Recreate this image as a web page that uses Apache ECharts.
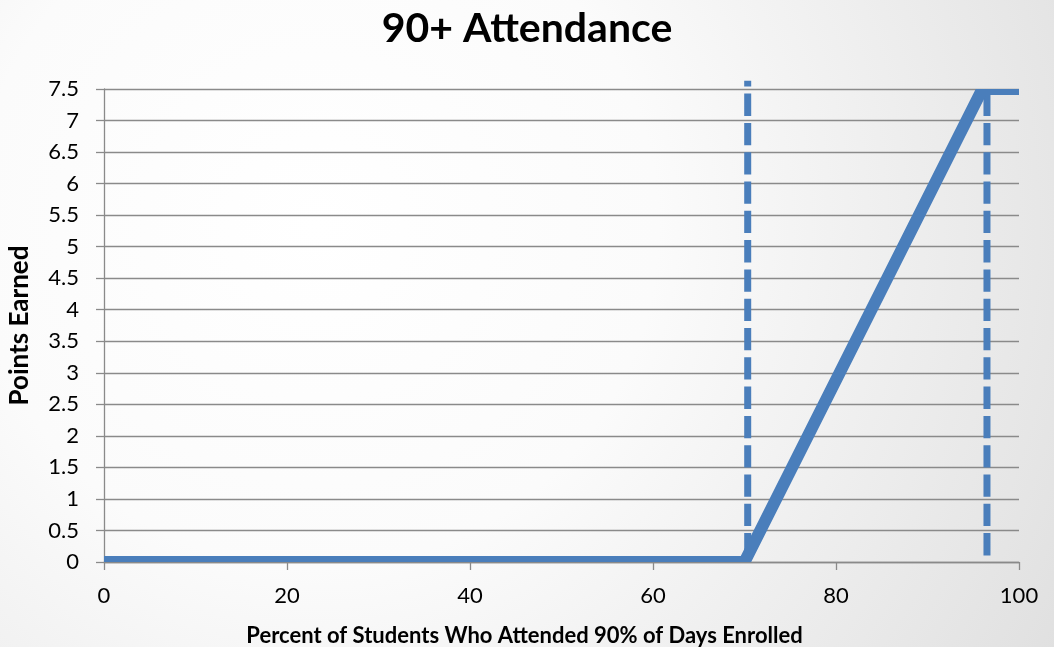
<!DOCTYPE html>
<html>
<head>
<meta charset="utf-8">
<script src="https://cdn.jsdelivr.net/npm/echarts@6/dist/echarts.min.js"></script>
<style>
  html, body { margin: 0; padding: 0; }
  #chart { width: 1054px; height: 647px; }
</style>
</head>
<body>
<div id="chart"></div>
<script>
// Points earned as a function of the share of students attending 90%+ of days
const scoreX = [0, 70, 96, 100];
const scoreY = [0, 0, 7.5, 7.5];

// Dashed threshold markers: x position, bottom and top value
const guideX = [70.35, 96.5];
const guideBottom = [0, 0];
const guideTop = [7.63, 7.5];

// Axis ranges and tick steps
const xRange = [0, 100];
const xStep = 20;
const yRange = [0, 7.5];
const yStep = 0.5;

const titleText = '90+ Attendance';
const xTitle = 'Percent of Students Who Attended 90% of Days Enrolled';
const yTitle = 'Points Earned';

const lineBlue = '#4a7ebb';
const gridGray = '#8a8a8a';

const chart = echarts.init(document.getElementById('chart'), null, { renderer: 'canvas' });

const guideSeries = guideX.map((x, i) => ({
  type: 'line',
  data: [[x, guideBottom[i]], [x, guideTop[i]]],
  symbol: 'none',
  clip: false,
  silent: true,
  animation: false,
  lineStyle: { color: lineBlue, width: 7, type: [22.3, 7], dashOffset: 22.7, cap: 'butt' },
  z: 2
}));

chart.setOption({
  animation: false,
  backgroundColor: {
    type: 'radial', x: 0.3, y: 0.35, r: 1.32,
    colorStops: [
      { offset: 0, color: '#ffffff' },
      { offset: 0.4, color: '#fbfbfb' },
      { offset: 1, color: '#e0e0e0' }
    ]
  },
  title: {
    text: titleText,
    left: 'center',
    top: 3,
    textStyle: { fontFamily: 'Lato', fontWeight: 'bold', fontSize: 41, color: '#000' }
  },
  grid: { left: 104, right: 35, top: 89, bottom: 85, outerBoundsMode: 'none', containLabel: false },
  xAxis: {
    type: 'value',
    min: xRange[0], max: xRange[1], interval: xStep,
    name: xTitle,
    nameLocation: 'middle',
    nameGap: 63,
    // the title sits centred on the chart, slightly left of the plot's middle
    nameTextStyle: { fontFamily: 'Lato', fontWeight: 'bold', fontSize: 22, color: '#000', padding: [0, 74, 0, 0] },
    axisLine: { show: true, lineStyle: { color: gridGray, width: 1.3 } },
    axisTick: { show: true, length: 8, lineStyle: { color: gridGray, width: 1.3 } },
    axisLabel: { fontFamily: 'Lato', fontSize: 22, color: '#000', margin: 23 },
    splitLine: { show: false }
  },
  yAxis: {
    type: 'value',
    min: yRange[0], max: yRange[1], interval: yStep,
    name: yTitle,
    nameLocation: 'middle',
    nameGap: 71,
    nameTextStyle: { fontFamily: 'Lato', fontWeight: 'bold', fontSize: 26, color: '#000' },
    axisLine: { show: true, lineStyle: { color: gridGray, width: 1.3 } },
    axisTick: { show: true, length: 8, lineStyle: { color: gridGray, width: 1.3 } },
    axisLabel: { fontFamily: 'Lato', fontSize: 22, color: '#000', margin: 25 },
    splitLine: { show: true, lineStyle: { color: gridGray, width: 1.3 } }
  },
  series: guideSeries.concat([{
    // score curve drawn as one thick polyline, clipped to the plot area
    type: 'custom',
    clip: true,
    silent: true,
    data: [[scoreX[0], scoreY[0]]],
    renderItem: function (params, api) {
      const pts = scoreX.map((x, i) => api.coord([x, scoreY[i]]));
      return {
        type: 'polyline',
        shape: { points: pts },
        style: { stroke: lineBlue, lineWidth: 12, fill: null, lineJoin: 'miter' }
      };
    },
    z: 3
  }])
});
</script>
</body>
</html>
